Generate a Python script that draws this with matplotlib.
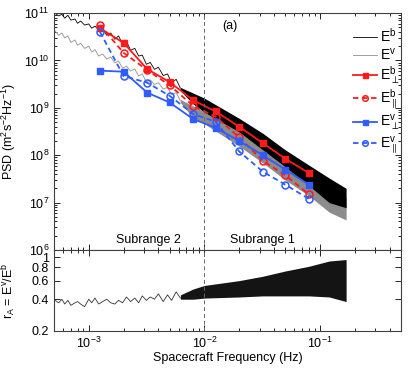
import matplotlib
matplotlib.use('Agg')
import matplotlib.pyplot as plt
from matplotlib.ticker import FixedLocator, FixedFormatter, NullLocator, LogLocator

plt.rcParams['font.family'] = ['Liberation Sans', 'DejaVu Sans']
plt.rcParams['mathtext.fontset'] = 'custom'
plt.rcParams['mathtext.rm'] = 'Liberation Sans'
plt.rcParams['mathtext.it'] = 'Liberation Sans:italic'
plt.rcParams['mathtext.bf'] = 'Liberation Sans:bold'
plt.rcParams['mathtext.sf'] = 'Liberation Sans'

# ---- spectra, sparse low-frequency part ----
freq_low = [5.1e-4, 5.5e-4, 5.85e-4, 6.2e-4, 6.6e-4, 7.0e-4, 7.6e-4, 8.0e-4, 8.5e-4,
            9.2e-4, 1.0e-3, 1.06e-3, 1.13e-3, 1.22e-3, 1.32e-3, 1.43e-3, 1.55e-3,
            1.68e-3, 1.81e-3, 1.96e-3, 2.12e-3, 2.3e-3, 2.5e-3, 2.7e-3, 2.9e-3,
            3.15e-3, 3.4e-3, 3.7e-3, 4.0e-3, 4.4e-3, 4.8e-3, 5.2e-3, 5.7e-3, 6.2e-3]
psd_b_low = [1.0e11, 8.7e10, 9.5e10, 7.8e10, 9.0e10, 7.1e10, 7.5e10, 6.1e10, 6.8e10,
             5.6e10, 5.9e10, 4.8e10, 5.3e10, 4.4e10, 4.8e10, 3.4e10, 3.8e10,
             2.8e10, 3.3e10, 2.2e10, 2.5e10, 1.65e10, 1.8e10, 1.24e10, 1.3e10,
             8.3e9, 9.1e9, 6.5e9, 7.2e9, 4.8e9, 5.2e9, 3.4e9, 4.0e9, 2.6e9]
psd_v_low = [4.2e10, 3.4e10, 3.8e10, 3.0e10, 3.3e10, 2.4e10, 2.7e10, 2.1e10, 2.3e10,
             1.8e10, 2.0e10, 1.5e10, 1.7e10, 1.24e10, 1.37e10, 1.07e10, 1.18e10,
             8.9e9, 9.7e9, 6.9e9, 7.6e9, 6.0e9, 6.6e9, 4.7e9, 5.2e9,
             3.5e9, 3.9e9, 3.1e9, 3.4e9, 2.5e9, 2.7e9, 1.9e9, 2.1e9, 1.4e9]
ratio_low = [0.39, 0.37, 0.40, 0.36, 0.39, 0.35, 0.37, 0.38, 0.36,
             0.34, 0.40, 0.37, 0.41, 0.36, 0.38, 0.40, 0.37,
             0.36, 0.39, 0.37, 0.42, 0.38, 0.41, 0.37, 0.43,
             0.39, 0.42, 0.40, 0.45, 0.38, 0.44, 0.39, 0.47, 0.41]

# ---- dense high-frequency part: envelopes of the noisy band ----
freq_env = [6.2e-3, 8e-3, 1e-2, 2e-2, 3.2e-2, 5e-2, 8e-2, 1.2e-1, 1.68e-1]
b_upper = [2.7e9, 2.05e9, 1.6e9, 6.0e8, 2.9e8, 1.3e8, 6.2e7, 3.3e7, 2.0e7]
b_lower = [2.3e9, 1.2e9, 8.1e8, 3.1e8, 1.3e8, 5.7e7, 2.3e7, 1.0e7, 7.8e6]
v_upper = [1.5e9, 1.1e9, 8.2e8, 3.4e8, 1.55e8, 7.2e7, 3.6e7, 1.85e7, 1.26e7]
v_lower = [1.3e9, 6.0e8, 4.6e8, 1.55e8, 6.9e7, 3.0e7, 1.4e7, 6.3e6, 4.3e6]
r_upper = [0.44, 0.50, 0.54, 0.60, 0.66, 0.74, 0.82, 0.92, 0.95]
r_lower = [0.40, 0.40, 0.41, 0.42, 0.43, 0.43, 0.43, 0.42, 0.38]

# ---- binned components ----
freq_pts = [1.25e-3, 2e-3, 3.2e-3, 5e-3, 8e-3, 1.25e-2, 2e-2, 3.2e-2, 5e-2, 8e-2]
b_perp = [4.8e10, 2.35e10, 6.6e9, 3.5e9, 1.45e9, 8.4e8, 4.0e8, 1.8e8, 8.5e7, 4.2e7]
b_par = [5.6e10, 1.45e10, 6.3e9, 3.0e9, 1.1e9, 6.5e8, 2.4e8, 7.6e7, 3.8e7, 1.5e7]
v_perp = [6.1e9, 5.8e9, 2.1e9, 1.3e9, 5.8e8, 3.8e8, 2.0e8, 1.0e8, 5.0e7, 2.4e7]
v_par = [4.0e10, 4.7e9, 3.4e9, 1.8e9, 7.4e8, 5.1e8, 1.2e8, 4.5e7, 2.4e7, 1.2e7]

yticks_r = [0.2, 0.4, 0.6, 0.8, 1.0]
yticklabels_r = ['0.2', '0.4', '0.6', '0.8', '1']

RED = '#ff1a1a'
BLUE = '#2f5bff'
FS = 9

fig = plt.figure(figsize=(4.15, 3.69), dpi=100)
ax1 = fig.add_axes([0.130, 0.3225, 0.836, 0.642])
ax2 = fig.add_axes([0.130, 0.103, 0.836, 0.2195])

ax1.fill_between(freq_env, v_lower, v_upper, color='0.55', lw=0)
lv, = ax1.plot(freq_low, psd_v_low, color='0.62', lw=0.7, label=r'E$^{\rm v}$')
ax1.fill_between(freq_env, b_lower, b_upper, color='k', lw=0)
lb, = ax1.plot(freq_low, psd_b_low, color='k', lw=0.6, label=r'E$^{\rm b}$')

dash = (3, 2)
l1, = ax1.plot(freq_pts, b_perp, '-s', color=RED, lw=1.3, ms=4.5,
               label=r'E$^{\rm b}_{\perp}$')
l2, = ax1.plot(freq_pts, b_par, '--o', color=RED, lw=1.3, ms=5, mfc='none', mew=1.1,
               dashes=dash, label=r'E$^{\rm b}_{\parallel}$')
l3, = ax1.plot(freq_pts, v_perp, '-s', color=BLUE, lw=1.3, ms=4.5,
               label=r'E$^{\rm v}_{\perp}$')
l4, = ax1.plot(freq_pts, v_par, '--o', color=BLUE, lw=1.3, ms=5, mfc='none', mew=1.1,
               dashes=dash, label=r'E$^{\rm v}_{\parallel}$')

ax1.axvline(1e-2, color='0.4', lw=0.7, dashes=(4, 3))
ax2.axvline(1e-2, color='0.4', lw=0.7, dashes=(4, 3))

ax2.plot(freq_low, ratio_low, color='0.2', lw=0.6)
ax2.fill_between(freq_env, r_lower, r_upper, color='0.08', lw=0)

for ax in (ax1, ax2):
    ax.set_xscale('log')
    ax.set_xlim(5e-4, 0.5)
    ax.tick_params(which='both', direction='in', top=True, right=True,
                   labelsize=FS, width=0.6)
    ax.tick_params(which='major', length=4)
    ax.tick_params(which='minor', length=2)
    for s in ax.spines.values():
        s.set_linewidth(0.8)
        s.set_color('0.25')

ax1.set_yscale('log')
ax1.set_ylim(1e6, 1e11)
ax1.yaxis.set_minor_locator(LogLocator(base=10, subs=range(2, 10), numticks=20))
ax1.tick_params(labelbottom=False)
ax1.set_ylabel(r'PSD (m$^2$s$^{-2}$Hz$^{-1}$)', fontsize=FS)
ax1.yaxis.set_label_coords(-0.105, 0.5)

ax2.set_yscale('log')
ax2.set_ylim(0.2, 1.17)
ax2.yaxis.set_major_locator(FixedLocator(yticks_r))
ax2.yaxis.set_major_formatter(FixedFormatter(yticklabels_r))
ax2.yaxis.set_minor_locator(NullLocator())
ax2.set_ylabel(r'r$_{\rm A}$ = E$^{\rm v}$/E$^{\rm b}$', fontsize=FS)
ax2.yaxis.set_label_coords(-0.105, 0.5)
ax2.set_xlabel('Spacecraft Frequency (Hz)', fontsize=FS, labelpad=1)

ax1.text(0.271, 0.042, 'Subrange 2', transform=ax1.transAxes, ha='center',
         va='center', fontsize=FS)
ax1.text(0.602, 0.042, 'Subrange 1', transform=ax1.transAxes, ha='center',
         va='center', fontsize=FS)
ax1.text(0.507, 0.945, '(a)', transform=ax1.transAxes, ha='center', va='center',
         fontsize=FS)

ax1.legend(handles=[lb, lv, l1, l2, l3, l4], loc='upper right',
           bbox_to_anchor=(1.0, 0.95), frameon=False, fontsize=10,
           handlelength=1.7, handletextpad=0.2, labelspacing=0.12,
           markerscale=0.8, borderaxespad=0.0, borderpad=0.15)

fig.savefig('out.png', dpi=100)
